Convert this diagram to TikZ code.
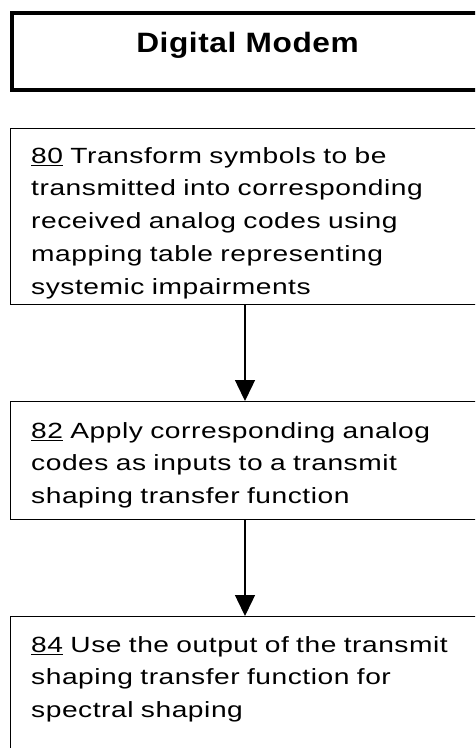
\documentclass[tikz,border=0pt]{standalone}
\usepackage{fontspec}
\setmainfont{Liberation Sans}
\newfontfamily\bodyfont[FakeStretch=1.28,LetterSpace=2.5]{Liberation Sans}
\newfontfamily\titlefont[FakeStretch=1.13,LetterSpace=2]{Liberation Sans}
\usetikzlibrary{arrows.meta}
\begin{document}
\begin{tikzpicture}[x=1pt,y=-1pt,
  box/.style={draw=black, line width=1.4pt, rectangle, inner sep=0pt, anchor=north west},
  topbox/.style={draw=black, line width=4pt, rectangle, inner sep=0pt, anchor=north west},
  title/.style={inner sep=0pt, anchor=base, font=\titlefont\fontsize{28}{33}\selectfont\bfseries},
  body/.style={anchor=north west, inner sep=0pt, align=left, text width=440pt,
    font=\bodyfont\fontsize{22}{32.8}\selectfont},
  conn/.style={line width=1.4pt, -{Triangle[length=21pt,width=20pt]}}]
\useasboundingbox (0,0) rectangle (475,748);
\clip (0,0) rectangle (475,748);
\node[topbox, minimum width=472pt, minimum height=77pt] (top) at (9.5,10.5) {};
\node[title] (ttl) at (247.5,52.5) {Digital Modem};
\node[box, minimum width=472pt, minimum height=176pt] (b80) at (10,128) {};
\node[body] (t80) at (31,147) {\underline{80} Transform symbols to be\\transmitted into corresponding\\received analog codes using\\mapping table representing\\systemic impairments};
\node[box, minimum width=472pt, minimum height=118pt] (b82) at (10,401) {};
\node[body] (t82) at (31,422) {\underline{82} Apply corresponding analog\\codes as inputs to a transmit\\shaping transfer function};
\node[box, minimum width=472pt, minimum height=200pt] (b84) at (10,616) {};
\node[body] (t84) at (31,636) {\underline{84} Use the output of the transmit\\shaping transfer function for\\spectral shaping};
\draw[conn] (b80.south -| 245,0) -- (b82.north -| 245,0);
\draw[conn] (b82.south -| 245,0) -- (b84.north -| 245,0);
\end{tikzpicture}
\end{document}
